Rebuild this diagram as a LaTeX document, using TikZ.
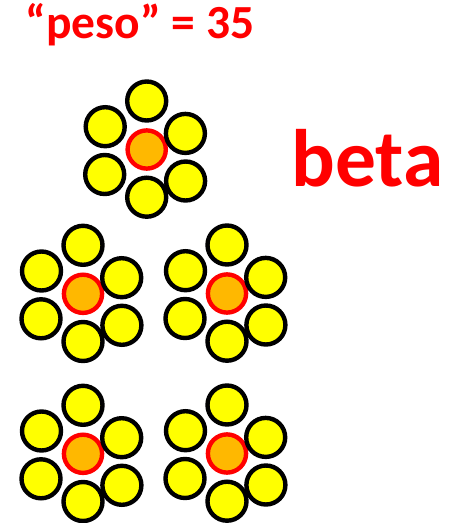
\documentclass[tikz,border=0pt]{standalone}
\usepackage{fontspec}
\setmainfont{Carlito}
\usepackage{tikz}
\usetikzlibrary{positioning}
\usepackage{xcolor}
\definecolor{petalyellow}{RGB}{255,255,0}
\definecolor{coreorange}{RGB}{255,184,0}
\definecolor{labelred}{RGB}{255,0,0}

\begin{document}
\begin{tikzpicture}[
  x=1pt, y=-1pt,
  petal/.style={circle, draw=black, fill=petalyellow, line width=4.4pt,
                minimum size=39pt, inner sep=0pt},
  core/.style={circle, draw=labelred, fill=coreorange, line width=4.4pt,
               minimum size=38.2pt, inner sep=0pt},
  bigtext/.style={text=labelred, font=\bfseries\fontsize{47.5}{52}\selectfont,
                  anchor=base, inner sep=0pt},
  hugetext/.style={text=labelred, font=\bfseries\fontsize{81.5}{86}\selectfont,
                   anchor=base, inner sep=0pt},
]
\useasboundingbox (0,0) rectangle (453,523);
%─── Labels ───────────────────────────────────────────────────────────────
\node[bigtext]  (peso) at (140,38.3)  {“peso” = 35};
\node[hugetext] (beta) at (367.5,186.7) {beta};
%─── Flowers: one core with six petals each ───────────────────────────────
\foreach \n/\x/\y in {f1/146.7/149.5, f2/83/293.8, f3/227/293.5,
                      f4/83/453.8, f5/227/453.5}{
  \begin{scope}[shift={(\x,\y)}]
    \node[core]  (\n-c)  at (0,0)         {};
    \node[petal] (\n-t)  at (0,-48.5)     {};
    \node[petal] (\n-ul) at (-41.5,-22.8) {};
    \node[petal] (\n-ur) at (38.7,-16.1)  {};
    \node[petal] (\n-ll) at (-42,25)      {};
    \node[petal] (\n-b)  at (0,47.7)      {};
    \node[petal] (\n-lr) at (38.9,31.5)   {};
  \end{scope}
}
\end{tikzpicture}
\end{document}
